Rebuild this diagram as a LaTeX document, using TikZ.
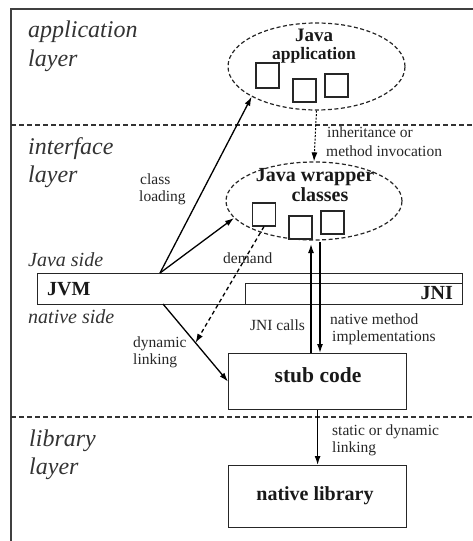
\documentclass[tikz,border=0pt]{standalone}
\usepackage{fontspec}
\setmainfont{Liberation Serif}
\usetikzlibrary{arrows.meta,calc,shapes.geometric}

\begin{document}
\begin{tikzpicture}[x=1bp,y=-1bp,
  frame/.style={draw=black!75, line width=1.5bp, line join=miter},
  sep/.style={draw=black!80, line width=1.1bp, dash pattern=on 5bp off 3bp},
  cloud/.style={ellipse, draw=black!85, line width=1.2bp, dash pattern=on 4bp off 2.5bp, inner sep=0},
  sq/.style={draw=black!85, line width=1.1bp, minimum width=23bp, minimum height=23bp, inner sep=0},
  box/.style={draw=black!85, line width=1.2bp, inner sep=0},
  conn/.style={draw=black, line width=1.3bp, -{Latex[length=9bp,width=6bp]}},
  layerlbl/.style={inner sep=0, anchor=base west, text=black!80, font=\fontsize{24bp}{28bp}\selectfont\itshape},
  sidelbl/.style={inner sep=0, anchor=base west, text=black!80, font=\fontsize{20bp}{24bp}\selectfont\itshape},
  small/.style={inner sep=0, anchor=base west, text=black!85, font=\fontsize{15.5bp}{18bp}\selectfont},
  title/.style={inner sep=0, anchor=base, text=black!90, font=\fontsize{20bp}{24bp}\selectfont\bfseries},
]
\useasboundingbox (0,0) rectangle (473,541);

% outer frame and layer separators
\draw[frame] (11,541) -- (11,9) -- (473,9);
\draw[sep] (11,125) -- (473,125);
\draw[sep] (11,417) -- (473,417);

% layer names
\node[layerlbl] (l1a) at (28,38) {application};
\node[layerlbl] (l1b) at (28,67) {layer};
\node[layerlbl] (l2a) at (28,155) {interface};
\node[layerlbl] (l2b) at (28,183) {layer};
\node[layerlbl] (l3a) at (29,446) {library};
\node[layerlbl] (l3b) at (29,474) {layer};
\node[sidelbl] (jside) at (28,266) {Java side};
\node[sidelbl] (nside) at (28,323) {native side};

% Java application
\node[cloud, minimum width=177bp, minimum height=87bp] (app) at (316.5,66.5) {};
\node[title, font=\fontsize{19bp}{22bp}\selectfont\bfseries] (appT1) at (314,42) {Java};
\node[title, font=\fontsize{17.5bp}{20bp}\selectfont\bfseries] (appT2) at (314,60) {application};
\node[sq, minimum height=25bp] (as1) at (267.5,75.5) {};
\node[sq] (as2) at (304.5,90.5) {};
\node[sq] (as3) at (336.5,85.5) {};

% Java wrapper classes
\node[cloud, minimum width=176bp, minimum height=78bp] (wrap) at (314,201) {};
\node[title] (wrT1) at (315,182) {Java wrapper};
\node[title] (wrT2) at (320,202) {classes};
\node[sq] (ws1) at (264,214.5) {};
\node[sq] (ws2) at (300.5,227.5) {};
\node[sq] (ws3) at (332.5,222.5) {};

% JVM bar with the JNI part
\node[box, anchor=north west, minimum width=425bp, minimum height=31bp] (jvm) at (37,273) {};
\node[box, anchor=south east, minimum width=217bp, minimum height=21bp] (jni) at (jvm.south east) {};
\node[title, anchor=base west] (jvmT) at (47,295) {JVM};
\node[title, anchor=base east] (jniT) at (453,299) {JNI};

% stub code and native library
\node[box, anchor=north west, minimum width=178bp, minimum height=56bp] (stub) at (228,353) {};
\node[title, font=\fontsize{21.5bp}{24bp}\selectfont\bfseries] (stubT) at (318,382) {stub code};
\node[box, anchor=north west, minimum width=178bp, minimum height=62bp] (lib) at (228,465) {};
\node[title] (libT) at (315,500) {native library};

% connectors
\coordinate (jvmA) at (160,273);
\coordinate (jvmB) at (163,304);
\draw[conn] (jvmA) -- (app.205);
\draw[conn] (jvmA) -- (wrap.192);
\draw[conn, line width=1bp, dash pattern=on 2bp off 1.5bp] (app.south) -- (wrap.north);
\draw[conn] (jvmB) -- (stub.west);
\coordinate (dl) at ($(jvmB)!0.5!(stub.west)$);
\draw[conn, dash pattern=on 4bp off 3bp] (ws1.south) -- (dl);
\coordinate (callsTop) at (311,244);
\coordinate (implTop) at (320,242);
\draw[conn] (stub.north -| callsTop) -- (callsTop);
\draw[conn] (implTop) -- (stub.north -| implTop);
\draw[conn] (stub.south) -- (lib.north);

% connector labels
\node[small] (inh1) at (327,138) {inheritance or};
\node[small] (inh2) at (326,157) {method invocation};
\node[small] (cl1) at (140,185) {class};
\node[small] (cl2) at (139,202) {loading};
\node[small] (dem) at (223,263) {demand};
\node[small] (dyn1) at (133,347) {dynamic};
\node[small] (dyn2) at (133,364) {linking};
\node[small] (calls) at (250,330) {JNI calls};
\node[small] (nm1) at (330,324) {native method};
\node[small] (nm2) at (332,341) {implementations};
\node[small] (st1) at (332,435) {static or dynamic};
\node[small] (st2) at (332,452) {linking};
\end{tikzpicture}
\end{document}
